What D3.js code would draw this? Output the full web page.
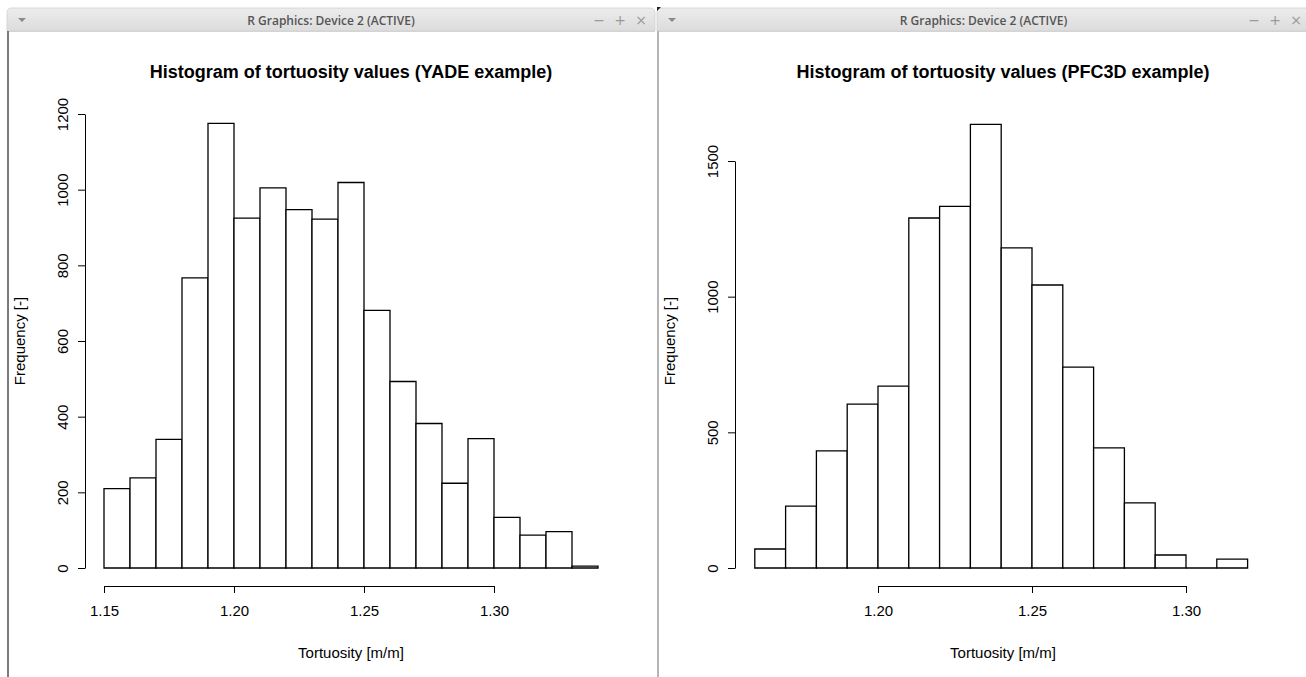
<!DOCTYPE html>
<html>
<head>
<meta charset="utf-8">
<script src="https://cdn.jsdelivr.net/npm/d3@7"></script>
<style>
  body { margin: 0; background: #ffffff; }
  svg { display: block; }
  .chrome-title { font-family: "Open Sans", "Noto Sans", sans-serif; font-size: 12px; font-weight: 600; fill: #555; }
  .chrome-btn { font-family: "DejaVu Sans", sans-serif; font-size: 14px; fill: #9a9a9a; }
  .plot text { font-family: "Liberation Sans", Arial, sans-serif; fill: #000; }
  .axis path, .axis line { stroke: #000; stroke-width: 1; }
  .axis text { font-size: 15px; }
</style>
</head>
<body>
<div id="chart"></div>
<script>
// Define SVG area dimensions
var svgWidth = 1306;
var svgHeight = 677;

// YADE example: bin edges and counts
var yadeEdges = [1.15, 1.16, 1.17, 1.18, 1.19, 1.20, 1.21, 1.22, 1.23, 1.24,
                 1.25, 1.26, 1.27, 1.28, 1.29, 1.30, 1.31, 1.32, 1.33, 1.34];
var yadeCounts = [210, 238, 340, 767, 1175, 925, 1005, 947, 922, 1019,
                  681, 493, 382, 224, 342, 134, 87, 96, 5];
var yadeXTicks = [1.15, 1.20, 1.25, 1.30];
var yadeYTicks = [0, 200, 400, 600, 800, 1000, 1200];

// PFC3D example: bin edges and counts
var pfcEdges = [1.16, 1.17, 1.18, 1.19, 1.20, 1.21, 1.22, 1.23, 1.24,
                1.25, 1.26, 1.27, 1.28, 1.29, 1.30, 1.31, 1.32];
var pfcCounts = [70, 228, 432, 604, 670, 1290, 1333, 1635, 1180,
                 1043, 740, 443, 240, 48, 0, 33];
var pfcXTicks = [1.20, 1.25, 1.30];
var pfcYTicks = [0, 500, 1000, 1500];

var svg = d3.select("#chart")
    .append("svg")
    .attr("width", svgWidth)
    .attr("height", svgHeight);

// window chrome (two R graphics device windows)
var defs = svg.append("defs");
var grad = defs.append("linearGradient")
    .attr("id", "titlebar")
    .attr("x1", 0).attr("y1", 0).attr("x2", 0).attr("y2", 1);
grad.append("stop").attr("offset", "0%").attr("stop-color", "#ececec");
grad.append("stop").attr("offset", "100%").attr("stop-color", "#dcdcdc");

function drawWindow(x0, x1, leftBorder) {
    var g = svg.append("g");
    g.append("path")
        .attr("d", `M${x0},31 L${x0},13 Q${x0},8 ${x0 + 5},8 L${x1 - 5},8 Q${x1},8 ${x1},13 L${x1},31 Z`)
        .attr("fill", "url(#titlebar)")
        .attr("stroke", "#cfcfcf")
        .attr("stroke-width", 0.8);
    g.append("line")
        .attr("x1", x0).attr("x2", x1)
        .attr("y1", 31.5).attr("y2", 31.5)
        .attr("stroke", "#d4d4d4");
    g.append("line")
        .attr("x1", x0 + 1).attr("x2", x0 + 1)
        .attr("y1", 31).attr("y2", svgHeight)
        .attr("stroke", leftBorder)
        .attr("stroke-width", 2);
    g.append("text")
        .attr("class", "chrome-title")
        .attr("x", (x0 + x1) / 2)
        .attr("y", 25)
        .attr("text-anchor", "middle")
        .text("R Graphics: Device 2 (ACTIVE)");
    g.append("path")
        .attr("d", `M${x0 + 11},18 L${x0 + 19},18 L${x0 + 15},22 Z`)
        .attr("fill", "#8a8a8a");
    var btns = ["\u2212", "+", "\u00d7"];
    btns.forEach(function (b, i) {
        g.append("text")
            .attr("class", "chrome-btn")
            .attr("x", x1 - 56 + i * 21)
            .attr("y", 25)
            .attr("text-anchor", "middle")
            .text(b);
    });
}

drawWindow(7, 655, "#7a7a7a");
drawWindow(657, 1310, "#b4b4b4");
svg.append("path").attr("d", "M657,7 L661,7 L657,11 Z").attr("fill", "#222");

// one histogram panel
function drawHist(opts) {
    var g = svg.append("g").attr("class", "plot");

    var x = d3.scaleLinear()
        .domain([opts.xTicks[0], opts.xTicks[opts.xTicks.length - 1]])
        .range(opts.xRange);
    var y = d3.scaleLinear()
        .domain([opts.yTicks[0], opts.yTicks[opts.yTicks.length - 1]])
        .range(opts.yRange);

    var bins = opts.counts.map(function (c, i) {
        return { x0: opts.edges[i], x1: opts.edges[i + 1], count: c };
    });

    // bars (paths so that empty bins still show as a flat line)
    g.selectAll("path.bar")
        .data(bins)
        .enter()
        .append("path")
        .attr("class", "bar")
        .attr("d", d => `M${x(d.x0)},${y(0)}V${y(d.count)}H${x(d.x1)}V${y(0)}Z`)
        .attr("fill", "#fff")
        .attr("stroke", "#000")
        .attr("stroke-width", 1.3);

    // x axis
    g.append("g")
        .attr("class", "axis")
        .attr("transform", `translate(0, ${opts.xAxisY})`)
        .call(d3.axisBottom(x)
            .tickValues(opts.xTicks)
            .tickFormat(d3.format(".2f"))
            .tickSize(7)
            .tickSizeOuter(0)
            .tickPadding(12))
        .call(a => a.selectAll("text").attr("dy", "0.71em"));

    // y axis
    g.append("g")
        .attr("class", "axis")
        .attr("transform", `translate(${opts.yAxisX}, 0)`)
        .call(d3.axisLeft(y)
            .tickValues(opts.yTicks)
            .tickFormat(d3.format("d"))
            .tickSize(7)
            .tickSizeOuter(0))
        .call(a => a.selectAll("text")
            .attr("transform", "rotate(-90)")
            .attr("x", 0)
            .attr("y", -17)
            .attr("dy", 0)
            .attr("text-anchor", "middle"));

    // title
    g.append("text")
        .attr("x", opts.cx)
        .attr("y", 78)
        .attr("text-anchor", "middle")
        .attr("font-size", "18px")
        .attr("font-weight", "bold")
        .text(opts.title);

    // x label
    g.append("text")
        .attr("x", opts.cx)
        .attr("y", 658)
        .attr("text-anchor", "middle")
        .attr("font-size", "15px")
        .text("Tortuosity [m/m]");

    // y label
    g.append("text")
        .attr("transform", `translate(${opts.yLabelX}, ${(opts.yRange[0] + 114) / 2}) rotate(-90)`)
        .attr("text-anchor", "middle")
        .attr("font-size", "15px")
        .text("Frequency [-]");
}

drawHist({
    edges: yadeEdges,
    counts: yadeCounts,
    xTicks: yadeXTicks,
    yTicks: yadeYTicks,
    xRange: [104, 494],
    yRange: [568, 114],
    xAxisY: 586,
    yAxisX: 85,
    yLabelX: 25,
    cx: 351,
    title: "Histogram of tortuosity values (YADE example)"
});

drawHist({
    edges: pfcEdges,
    counts: pfcCounts,
    xTicks: pfcXTicks,
    yTicks: pfcYTicks,
    xRange: [878, 1186],
    yRange: [568, 161],
    xAxisY: 586,
    yAxisX: 735,
    yLabelX: 675,
    cx: 1003,
    title: "Histogram of tortuosity values (PFC3D example)"
});
</script>
</body>
</html>
